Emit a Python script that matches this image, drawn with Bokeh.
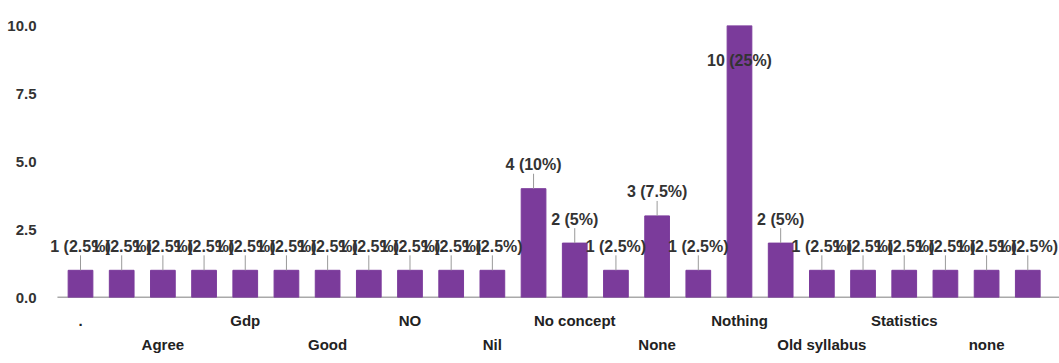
from bokeh.plotting import figure
from bokeh.models import ColumnDataSource, LinearAxis, FixedTicker, NumeralTickFormatter, Range1d, LabelSet
from bokeh.core.properties import value
from bokeh.embed import file_html
from bokeh.resources import INLINE

# Response categories (only every other name is legible in the chart)
categories = [".", "", "Agree", "", "Gdp", "", "Good", "", "NO", "", "Nil", "",
              "No concept", "", "None", "", "Nothing", "", "Old syllabus", "",
              "Statistics", "", "none", ""]
counts = [1, 1, 1, 1, 1, 1, 1, 1, 1, 1, 1, 4, 2, 1, 3, 1, 10, 2, 1, 1, 1, 1, 1, 1]
y_ticks = [0, 2.5, 5, 7.5, 10]
y_max = 10

total = sum(counts)
FONT = "Liberation Sans"
BAR = "#7b3b9b"
X_START, X_END = -0.85, 23.77

xs = list(range(len(counts)))
labels = [f"{c} ({c / total * 100:g}%)" for c in counts]
above = [c + 0.9 <= y_max for c in counts]
label_y = [c + 0.88 if a else c - 1.3 for c, a in zip(counts, above)]
lead_end = [c + 0.55 if a else c for c, a in zip(counts, above)]

src = ColumnDataSource(dict(x=xs, count=counts, label=labels, label_y=label_y, lead_end=lead_end))

p = figure(width=1059, height=355, x_range=Range1d(X_START, X_END), y_range=Range1d(0, y_max),
           output_backend="svg", toolbar_location=None,
           min_border_left=45, min_border_right=0, min_border_top=25, min_border_bottom=40)
p.outline_line_color = None
p.xgrid.visible = False
p.ygrid.visible = False
p.background_fill_color = "white"

# baseline starting just left of the first bar
p.segment(x0=[min(xs) - 0.56], y0=[0], x1=[X_END], y1=[0], line_color="#555555", line_width=1.5)
p.vbar(x="x", top="count", width=0.6, color=BAR, source=src)
p.segment(x0="x", y0="count", x1="x", y1="lead_end", line_color="#9a9a9a", line_width=1, source=src)
p.add_layout(LabelSet(x="x", y="label_y", text="label", source=src, text_align="center",
                      text_baseline="middle", text_font=value(FONT), text_font_style="bold",
                      text_font_size="16px", text_color="#333333"))

# y axis
ya = p.yaxis[0]
ya.ticker = FixedTicker(ticks=y_ticks)
ya.formatter = NumeralTickFormatter(format="0.0")
ya.axis_line_color = None
ya.major_tick_line_color = None
ya.minor_tick_line_color = None
ya.major_label_standoff = 3
ya.major_label_text_font = FONT
ya.major_label_text_font_style = "bold"
ya.major_label_text_font_size = "15px"
ya.major_label_text_color = "#333333"

# x axes: staggered category labels
upper = [i for i in xs if i % 4 == 0 and categories[i]]
lower = [i for i in xs if i % 4 == 2 and categories[i]]

def style_x(ax, ticks, standoff):
    ax.ticker = FixedTicker(ticks=ticks)
    ax.major_label_overrides = {i: categories[i] for i in ticks}
    ax.axis_line_color = None
    ax.major_tick_line_color = None
    ax.minor_tick_line_color = None
    ax.major_label_standoff = standoff
    ax.major_label_text_font = FONT
    ax.major_label_text_font_style = "bold"
    ax.major_label_text_font_size = "15px"
    ax.major_label_text_color = "#222222"

xa = p.xaxis[0]
style_x(xa, upper, 8)

xb = LinearAxis()
style_x(xb, lower, -2)
p.add_layout(xb, "below")

open("out.html", "w").write(file_html(p, INLINE))
